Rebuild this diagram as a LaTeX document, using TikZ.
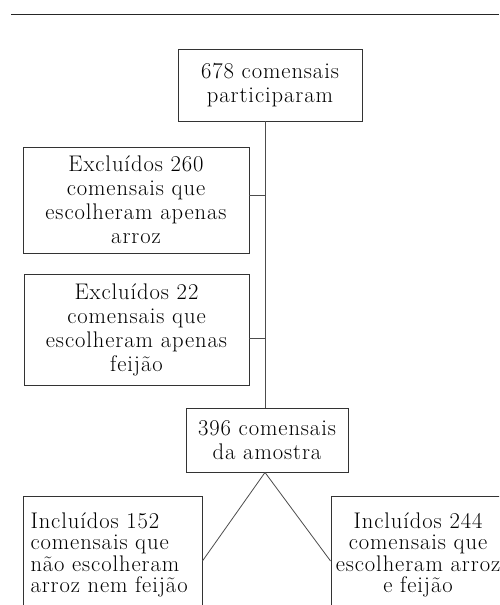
\documentclass[tikz,border=0pt]{standalone}
\usepackage{fontspec}
\setmainfont{Latin Modern Roman}[LetterSpace=4]
\begin{document}
\begin{tikzpicture}[x=1pt,y=-1pt,
  box/.style={draw=black!80,line width=0.9pt,inner sep=0pt,align=center,
    font=\fontsize{22.6}{24}\selectfont},
  conn/.style={draw=black!70,line width=0.8pt}]
\useasboundingbox (0,0) rectangle (499,605);
\clip (0,0) rectangle (499,605);
\draw[black!85,line width=1pt] (11,14) -- (499,14);
\coordinate (spine) at (265,0);
\node[box,minimum width=184pt,minimum height=72pt] (top) at (270,85)
  {678 comensais\\participaram};
\node[box,minimum width=226pt,minimum height=106pt] (ex1) at (136,200)
  {Excluídos 260\\comensais que\\escolheram apenas\\arroz};
\node[box,minimum width=225pt,minimum height=111pt] (ex2) at (136.5,329.5)
  {Excluídos 22\\comensais que\\escolheram apenas\\feijão};
\node[box,minimum width=162pt,minimum height=64pt] (sample) at (267,440)
  {396 comensais\\da amostra};
\node[box,minimum width=179pt,minimum height=118pt,text width=170pt,inner xsep=4.5pt,
  align=left,font=\fontsize{22.6}{21.5}\selectfont] (inc1) at (112.5,555)
  {\hspace*{3pt}Incluídos 152\\\hspace*{3pt}comensais que\\\hspace*{3pt}não escolheram\\\hspace*{3pt}arroz nem feijão};
\node[box,minimum width=174pt,minimum height=118pt,
  font=\fontsize{22.6}{21.5}\selectfont] (inc2) at (418,555)
  {Incluídos 244\\comensais que\\escolheram arroz\\e feijão};
\draw[conn] (spine |- top.south) -- (spine |- sample.north);
\draw[conn] ([yshift=5pt]ex1.east) -- ([yshift=5pt]ex1.east -| spine);
\draw[conn] ([yshift=-8.5pt]ex2.east) -- ([yshift=-8.5pt]ex2.east -| spine);
\draw[conn] (spine |- sample.south) -- ([yshift=-6pt]inc1.east);
\draw[conn] (spine |- sample.south) -- ([yshift=-6pt]inc2.west);
\end{tikzpicture}
\end{document}
